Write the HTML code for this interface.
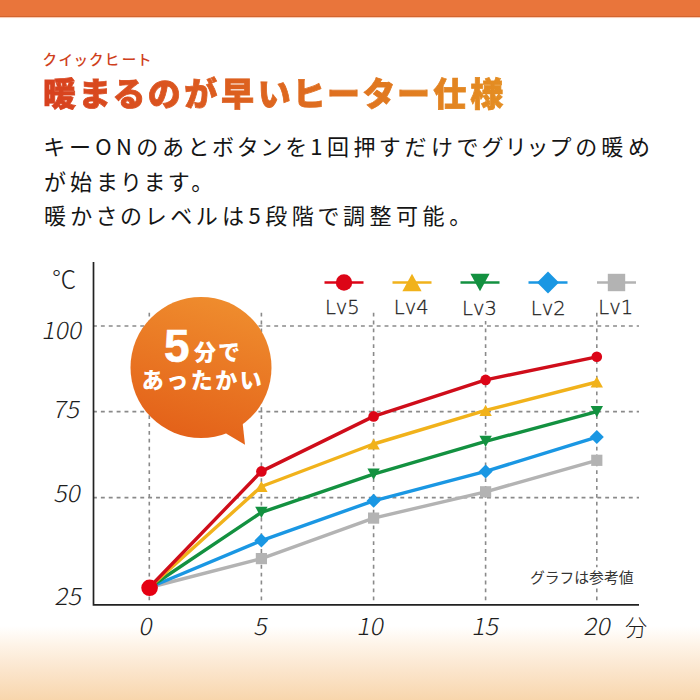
<!DOCTYPE html>
<html lang="ja"><head><meta charset="utf-8"><title>クイックヒート</title>
<style>
html,body{margin:0;padding:0;}
body{width:700px;height:700px;position:relative;overflow:hidden;background:#fff;font-family:"Liberation Sans","Noto Sans CJK JP",sans-serif;}
.topbar{position:absolute;left:0;top:0;width:700px;height:16px;background:#E9753B;border-bottom:1px solid #D2652F;box-shadow:0 1px 0.6px rgba(240,140,90,.45);}
.bottom{position:absolute;left:0;top:626px;width:700px;height:74px;background:linear-gradient(180deg,#fff 0%,#FEF4E8 25%,#FBE5CC 60%,#F8D6AC 100%);}
.chart{position:absolute;left:0;top:0;}
.t{position:absolute;white-space:nowrap;line-height:1;}
.sub{left:43px;top:47.5px;font-size:14.5px;color:#CF3F1C;font-family:"Noto Sans CJK JP",sans-serif;font-weight:500;letter-spacing:3.1px;font-feature-settings:"palt";line-height:normal;}
.title{left:43px;top:66.5px;font-size:33px;font-weight:900;letter-spacing:3.9px;font-feature-settings:"palt";font-family:"Noto Sans CJK JP",sans-serif;background:linear-gradient(90deg,#D7401E 0%,#DE6A1F 55%,#E48E22 100%);-webkit-background-clip:text;background-clip:text;color:transparent;-webkit-text-stroke:0.8px rgba(0,0,0,0.01);line-height:50px;}
.body{left:44px;top:128px;font-size:22px;line-height:34.5px;color:#151515;font-weight:400;font-family:"Noto Sans CJK JP",sans-serif;letter-spacing:4.5px;font-feature-settings:"palt";}
.num{font-family:"Noto Sans CJK JP",sans-serif;font-weight:300;color:#1e1e1e;font-size:23.3px;transform:skewX(-11deg) scaleX(1.07);transform-origin:0 50%;}
.num.up{transform:none;font-size:24.3px;}
#kfun{font-size:22.2px;}
.lg{font-family:"DejaVu Sans",sans-serif;font-weight:200;font-size:19.5px;color:#222;-webkit-text-stroke:0.3px #222;}
.note{font-size:14.8px;color:#333;font-family:"Noto Sans CJK JP",sans-serif;}
.bub{color:#fff;font-family:"Liberation Sans",sans-serif;font-weight:bold;font-size:46px;-webkit-text-stroke:0.6px #fff;}
.bubs{color:#fff;font-family:"Noto Sans CJK JP",sans-serif;font-weight:900;font-size:22px;letter-spacing:2px;}
.bub2{color:#fff;font-family:"Noto Sans CJK JP",sans-serif;font-weight:900;font-size:22px;letter-spacing:2.5px;}
</style></head><body>
<div class="topbar"></div>
<div class="bottom"></div>
<svg class="chart" width="700" height="700" viewBox="0 0 700 700">
<defs><linearGradient id="bub" gradientUnits="userSpaceOnUse" x1="225" y1="297" x2="180" y2="445"><stop offset="0" stop-color="#EF8D2E"/><stop offset="1" stop-color="#E35F18"/></linearGradient></defs>
<line x1="93" y1="326.0" x2="639" y2="326.0" stroke="#8a8a8a" stroke-width="1.6" stroke-dasharray="3.9 3.98"/>
<line x1="93" y1="411.6" x2="639" y2="411.6" stroke="#8a8a8a" stroke-width="1.6" stroke-dasharray="3.9 3.98"/>
<line x1="93" y1="497.6" x2="639" y2="497.6" stroke="#8a8a8a" stroke-width="1.6" stroke-dasharray="3.9 3.98"/>
<line x1="149.3" y1="312.7" x2="149.3" y2="604" stroke="#8a8a8a" stroke-width="1.6" stroke-dasharray="3.8 4.08"/>
<line x1="261.4" y1="312.7" x2="261.4" y2="604" stroke="#8a8a8a" stroke-width="1.6" stroke-dasharray="3.8 4.08"/>
<line x1="373.6" y1="312.7" x2="373.6" y2="604" stroke="#8a8a8a" stroke-width="1.6" stroke-dasharray="3.8 4.08"/>
<line x1="485.6" y1="312.7" x2="485.6" y2="604" stroke="#8a8a8a" stroke-width="1.6" stroke-dasharray="3.8 4.08"/>
<line x1="596.8" y1="312.7" x2="596.8" y2="604" stroke="#8a8a8a" stroke-width="1.6" stroke-dasharray="3.8 4.08"/>
<path d="M93.5,262 V604.9 H639" fill="none" stroke="#222" stroke-width="1.7"/>
<path d="M149.3,587.5 C149.3,587.5 261.4,558.6 261.4,558.6 C261.4,558.6 373.6,518.1 373.6,518.1 C373.6,518.1 485.6,491.8 485.6,491.8 C485.6,491.8 596.8,460.3 596.8,460.3" fill="none" stroke="#B3B3B3" stroke-width="3.4" stroke-linejoin="round"/>
<path d="M149.3,587.5 C149.3,587.5 261.4,540.6 261.4,540.6 C261.4,540.6 373.6,500.8 373.6,500.8 C373.6,500.8 485.6,471.4 485.6,471.4 C485.6,471.4 596.8,437.1 596.8,437.1" fill="none" stroke="#1A97E3" stroke-width="3.4" stroke-linejoin="round"/>
<path d="M149.3,587.5 C149.3,587.5 261.4,512.4 261.4,512.4 C261.4,512.4 373.6,474.2 373.6,474.2 C373.6,474.2 485.6,441.4 485.6,441.4 C485.6,441.4 596.8,411.6 596.8,411.6" fill="none" stroke="#139140" stroke-width="3.4" stroke-linejoin="round"/>
<path d="M149.3,587.5 C149.3,587.5 261.4,486.5 261.4,486.5 C261.4,486.5 373.6,444.0 373.6,444.0 C373.6,444.0 485.6,410.4 485.6,410.4 C485.6,410.4 596.8,382.0 596.8,382.0" fill="none" stroke="#F1B21B" stroke-width="3.4" stroke-linejoin="round"/>
<path d="M149.3,587.5 C149.3,587.5 261.4,471.4 261.4,471.4 C261.4,471.4 373.6,416.4 373.6,416.4 C373.6,416.4 485.6,379.9 485.6,379.9 C485.6,379.9 596.8,356.8 596.8,356.8" fill="none" stroke="#CF0D1A" stroke-width="3.4" stroke-linejoin="round"/>
<rect x="255.8" y="553.0" width="11.2" height="11.2" fill="#B3B3B3"/>
<rect x="368.0" y="512.5" width="11.2" height="11.2" fill="#B3B3B3"/>
<rect x="480.0" y="486.2" width="11.2" height="11.2" fill="#B3B3B3"/>
<rect x="591.2" y="454.7" width="11.2" height="11.2" fill="#B3B3B3"/>
<polygon points="261.4,533.6 268.4,540.6 261.4,547.6 254.4,540.6" fill="#1A97E3"/>
<polygon points="373.6,493.8 380.6,500.8 373.6,507.8 366.6,500.8" fill="#1A97E3"/>
<polygon points="485.6,464.4 492.6,471.4 485.6,478.4 478.6,471.4" fill="#1A97E3"/>
<polygon points="596.8,430.1 603.8,437.1 596.8,444.1 589.8,437.1" fill="#1A97E3"/>
<polygon points="255.2,506.8 267.6,506.8 261.4,518.0" fill="#139140"/>
<polygon points="367.4,468.6 379.8,468.6 373.6,479.8" fill="#139140"/>
<polygon points="479.4,435.8 491.8,435.8 485.6,447.0" fill="#139140"/>
<polygon points="590.6,406.0 603.0,406.0 596.8,417.2" fill="#139140"/>
<polygon points="261.4,480.9 267.6,492.1 255.2,492.1" fill="#F1B21B"/>
<polygon points="373.6,438.4 379.8,449.6 367.4,449.6" fill="#F1B21B"/>
<polygon points="485.6,404.8 491.8,416.0 479.4,416.0" fill="#F1B21B"/>
<polygon points="596.8,376.4 603.0,387.6 590.6,387.6" fill="#F1B21B"/>
<circle cx="261.4" cy="471.4" r="5.30" fill="#DC0517"/>
<circle cx="373.6" cy="416.4" r="5.30" fill="#DC0517"/>
<circle cx="485.6" cy="379.9" r="5.30" fill="#DC0517"/>
<circle cx="596.8" cy="356.8" r="5.30" fill="#DC0517"/>
<circle cx="149.6" cy="587.8" r="8.3" fill="#E50012"/>
<rect x="461" y="296" width="38" height="25" fill="#fff"/>
<rect x="527" y="567.2" width="110" height="20.8" fill="#fff"/>
<line x1="324.5" y1="282.5" x2="363.5" y2="282.5" stroke="#DC0517" stroke-width="2.6"/>
<circle cx="344.0" cy="282.5" r="8.21" fill="#DC0517"/>
<line x1="392.5" y1="282.5" x2="431.5" y2="282.5" stroke="#F1B21B" stroke-width="2.6"/>
<polygon points="412.0,273.8 421.6,291.2 402.4,291.2" fill="#F1B21B"/>
<line x1="460.5" y1="282.5" x2="499.5" y2="282.5" stroke="#139140" stroke-width="2.6"/>
<polygon points="470.4,273.8 489.6,273.8 480.0,291.2" fill="#139140"/>
<line x1="528.5" y1="282.5" x2="567.5" y2="282.5" stroke="#1A97E3" stroke-width="2.6"/>
<polygon points="548.0,271.6 558.9,282.5 548.0,293.4 537.1,282.5" fill="#1A97E3"/>
<line x1="597.0" y1="282.5" x2="636.0" y2="282.5" stroke="#B3B3B3" stroke-width="2.6"/>
<rect x="607.8" y="273.8" width="17.4" height="17.4" fill="#B3B3B3"/>
<g fill="url(#bub)"><path d="M226,433.5 L245,444.8 L242.5,422 Z"/><circle cx="201" cy="367.5" r="70.5"/></g>
</svg>
<div class="t sub">クイックヒート</div>
<div class="t title">暖まるのが早いヒーター仕様</div>
<div class="t body">キーONのあとボタンを1回押すだけでグリップの暖め<br>が始まります。<br>暖かさのレベルは5段階で調整可能。</div>
<div id="kC" class="t num up" style="left:52.10px;top:265.85px">℃</div>
<div id="k100" class="t num" style="left:42.50px;top:317.50px">100</div>
<div id="k75" class="t num" style="left:53.55px;top:396.70px">75</div>
<div id="k50" class="t num" style="left:54.75px;top:481.45px">50</div>
<div id="k25" class="t num" style="left:55.55px;top:583.80px">25</div>
<div id="k0" class="t num" style="left:140.05px;top:613.80px">0</div>
<div id="k5" class="t num" style="left:255.00px;top:613.85px">5</div>
<div id="k10" class="t num" style="left:358.05px;top:613.65px">10</div>
<div id="k15" class="t num" style="left:472.70px;top:613.65px">15</div>
<div id="k20" class="t num" style="left:584.85px;top:613.85px">20</div>
<div id="kfun" class="t num up" style="left:625.00px;top:614.50px">分</div>
<div id="kLv5" class="t lg" style="left:324.90px;top:298.00px">Lv5</div>
<div id="kLv4" class="t lg" style="left:393.85px;top:298.00px">Lv4</div>
<div id="kLv3" class="t lg" style="left:462.05px;top:298.60px">Lv3</div>
<div id="kLv2" class="t lg" style="left:530.80px;top:298.60px">Lv2</div>
<div id="kLv1" class="t lg" style="left:598.30px;top:297.55px">Lv1</div>
<div id="knote" class="t note" style="left:529.90px;top:570.00px">グラフは参考値</div>
<div id="kb5" class="t bub" style="left:164.00px;top:323.45px"><span class="big">5</span></div>
<div id="kbfun" class="t bubs" style="left:193.90px;top:339.00px">分で</div>
<div id="kbatt" class="t bub2" style="left:141.65px;top:366.95px">あったかい</div>
</body></html>
